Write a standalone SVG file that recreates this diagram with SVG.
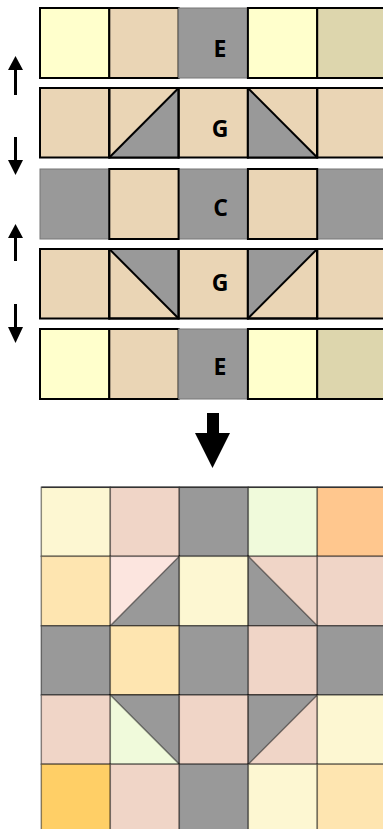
<svg xmlns="http://www.w3.org/2000/svg" width="383" height="829" viewBox="0 0 383 829">
<style>
.y{fill:#FFFFCC}.t{fill:#EAD5B5}.o{fill:#DDD6AD}.g{fill:#999999}
.b{stroke:#000;stroke-width:2;stroke-linejoin:miter}
.gs{stroke:#777;stroke-width:1}
.q{stroke:rgba(0,0,0,0.45);stroke-width:1.5}
.gr{fill:#999999}.cr{fill:#FDF7D2}.pk{fill:#F0D5C7}.lg{fill:#F0FADB}.or{fill:#FFC78E}.lo{fill:#FEE5B0}.lp{fill:#FCE5DF}.gd{fill:#FFCF66}
.ar{fill:#000}
</style>
<g id="row1">
<rect class="y b" x="40" y="8" width="69.3" height="70"/>
<rect class="t b" x="109.3" y="8" width="69.3" height="70"/>
<rect class="g gs" x="178.6" y="8" width="69.3" height="70"/>
<rect class="y b" x="247.9" y="8" width="69.3" height="70"/>
<rect class="o b" x="317.2" y="8" width="69.3" height="70"/>
<text x="220" y="57" font-family="'Open Sans','Liberation Sans',sans-serif" font-weight="bold" font-size="23" text-anchor="middle" fill="#000">E</text>
</g>
<g id="row2">
<rect class="t b" x="40" y="88" width="69.3" height="69.5"/>
<rect class="t b" x="109.3" y="88" width="69.3" height="69.5"/>
<polygon class="g" points="109.3,157.5 178.6,88 178.6,157.5"/>
<line class="b" x1="109.3" y1="157.5" x2="178.6" y2="88"/>
<rect class="t b" x="178.6" y="88" width="69.3" height="69.5"/>
<rect class="t b" x="247.9" y="88" width="69.3" height="69.5"/>
<polygon class="g" points="247.9,88 317.2,157.5 247.9,157.5"/>
<line class="b" x1="247.9" y1="88" x2="317.2" y2="157.5"/>
<rect class="t b" x="317.2" y="88" width="69.3" height="69.5"/>
<rect fill="none" class="b" x="109.3" y="88" width="69.3" height="69.5"/>
<rect fill="none" class="b" x="247.9" y="88" width="69.3" height="69.5"/>
<text x="220" y="137.3" font-family="'Open Sans','Liberation Sans',sans-serif" font-weight="bold" font-size="23" text-anchor="middle" fill="#000">G</text>
</g>
<g id="row3">
<rect class="g gs" x="40" y="169" width="69.3" height="70"/>
<rect class="g gs" x="178.6" y="169" width="69.3" height="70"/>
<rect class="g gs" x="317.2" y="169" width="69.3" height="70"/>
<rect class="t b" x="109.3" y="169" width="69.3" height="70"/>
<rect class="t b" x="247.9" y="169" width="69.3" height="70"/>
<text x="220.5" y="216" font-family="'Open Sans','Liberation Sans',sans-serif" font-weight="bold" font-size="23" text-anchor="middle" fill="#000">C</text>
</g>
<g id="row4">
<rect class="t b" x="40" y="249" width="69.3" height="69.5"/>
<rect class="t b" x="109.3" y="249" width="69.3" height="69.5"/>
<polygon class="g" points="109.3,249 178.6,249 178.6,318.5"/>
<line class="b" x1="109.3" y1="249" x2="178.6" y2="318.5"/>
<rect class="t b" x="178.6" y="249" width="69.3" height="69.5"/>
<rect class="t b" x="247.9" y="249" width="69.3" height="69.5"/>
<polygon class="g" points="247.9,249 317.2,249 247.9,318.5"/>
<line class="b" x1="247.9" y1="318.5" x2="317.2" y2="249"/>
<rect class="t b" x="317.2" y="249" width="69.3" height="69.5"/>
<rect fill="none" class="b" x="109.3" y="249" width="69.3" height="69.5"/>
<rect fill="none" class="b" x="247.9" y="249" width="69.3" height="69.5"/>
<text x="220" y="290.5" font-family="'Open Sans','Liberation Sans',sans-serif" font-weight="bold" font-size="23" text-anchor="middle" fill="#000">G</text>
</g>
<g id="row5">
<rect class="y b" x="40" y="329" width="69.3" height="70"/>
<rect class="t b" x="109.3" y="329" width="69.3" height="70"/>
<rect class="g gs" x="178.6" y="329" width="69.3" height="70"/>
<rect class="y b" x="247.9" y="329" width="69.3" height="70"/>
<rect class="o b" x="317.2" y="329" width="69.3" height="70"/>
<text x="220" y="375" font-family="'Open Sans','Liberation Sans',sans-serif" font-weight="bold" font-size="23" text-anchor="middle" fill="#000">E</text>
</g>
<g id="connectors">
<rect class="ar" x="14" y="68" width="3" height="27"/>
<polygon class="ar" points="15.5,56 23,70 8,70"/>
<rect class="ar" x="14" y="137" width="3" height="25"/>
<polygon class="ar" points="8,160 23,160 15.5,175"/>
<rect class="ar" x="14" y="236" width="3" height="25"/>
<polygon class="ar" points="15.5,224 23,238 8,238"/>
<rect class="ar" x="14" y="304" width="3" height="25"/>
<polygon class="ar" points="8,327 23,327 15.5,343"/>
<polygon class="ar" points="207,413 219,413 219,433 230,433 212.5,468 195,433 207,433"/>
</g>
<g id="grid">
<g id="g-r1">
<rect class="cr q" x="41.3" y="487.3" width="69" height="69"/>
<rect class="pk q" x="110.3" y="487.3" width="69" height="69"/>
<rect class="gr q" x="179.3" y="487.3" width="69" height="69"/>
<rect class="lg q" x="248.3" y="487.3" width="69" height="69"/>
<rect class="or q" x="317.3" y="487.3" width="69" height="69"/>
</g>
<g id="g-r2">
<rect class="lo q" x="41.3" y="556.3" width="69" height="69.5"/>
<rect class="lp q" x="110.3" y="556.3" width="69" height="69.5"/>
<polygon class="gr q" points="110.3,625.8 179.3,556.3 179.3,625.8"/>
<rect class="cr q" x="179.3" y="556.3" width="69" height="69.5"/>
<rect class="pk q" x="248.3" y="556.3" width="69" height="69.5"/>
<polygon class="gr q" points="248.3,556.3 317.3,625.8 248.3,625.8"/>
<rect class="pk q" x="317.3" y="556.3" width="69" height="69.5"/>
</g>
<g id="g-r3">
<rect class="gr q" x="41.3" y="625.8" width="69" height="69.2"/>
<rect class="lo q" x="110.3" y="625.8" width="69" height="69.2"/>
<rect class="gr q" x="179.3" y="625.8" width="69" height="69.2"/>
<rect class="pk q" x="248.3" y="625.8" width="69" height="69.2"/>
<rect class="gr q" x="317.3" y="625.8" width="69" height="69.2"/>
</g>
<g id="g-r4">
<rect class="pk q" x="41.3" y="695" width="69" height="69.2"/>
<rect class="lg q" x="110.3" y="695" width="69" height="69.2"/>
<polygon class="gr q" points="110.3,695 179.3,695 179.3,764.2"/>
<rect class="pk q" x="179.3" y="695" width="69" height="69.2"/>
<rect class="pk q" x="248.3" y="695" width="69" height="69.2"/>
<polygon class="gr q" points="248.3,695 317.3,695 248.3,764.2"/>
<rect class="cr q" x="317.3" y="695" width="69" height="69.2"/>
</g>
<g id="g-r5">
<rect class="gd q" x="41.3" y="764.2" width="69" height="69"/>
<rect class="pk q" x="110.3" y="764.2" width="69" height="69"/>
<rect class="gr q" x="179.3" y="764.2" width="69" height="69"/>
<rect class="cr q" x="248.3" y="764.2" width="69" height="69"/>
<rect class="lo q" x="317.3" y="764.2" width="69" height="69"/>
</g>
<line x1="41.3" y1="487.3" x2="386" y2="487.3" stroke="#333" stroke-width="1.5"/>
</g>
</svg>
